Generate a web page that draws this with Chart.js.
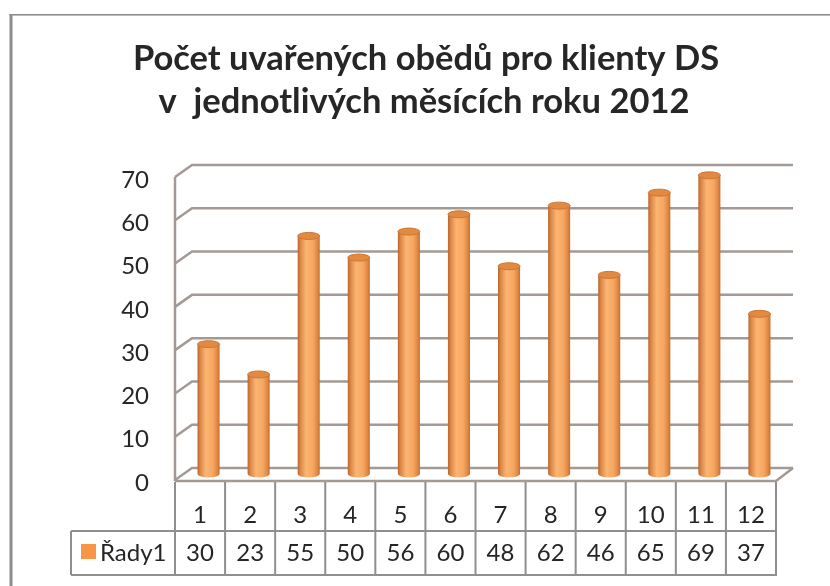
<!DOCTYPE html>
<html>
<head>
<meta charset="utf-8">
<script src="https://cdn.jsdelivr.net/npm/chart.js@4"></script>
<style>
  html, body { margin: 0; padding: 0; background: #ffffff; }
  #c { display: block; }
</style>
</head>
<body>
<canvas id="c" width="830" height="586"></canvas>
<script>
// ---- data ----
const titleLines = ['Počet uvařených obědů pro klienty DS', 'v  jednotlivých měsících roku 2012'];
const categories = ['1', '2', '3', '4', '5', '6', '7', '8', '9', '10', '11', '12'];
const seriesName = 'Řady1';
const values = [30, 23, 55, 50, 56, 60, 48, 62, 46, 65, 69, 37];
const yTicks = [0, 10, 20, 30, 40, 50, 60, 70];

// ---- style ----
const FONT = 'Lato, Carlito, Calibri, sans-serif';
const TEXT = '#262626';
const GRID = '#a39a95';
const TABLE = '#8f8f8f';
const ORANGE = '#f79646';
const DX = 17, DY = 12;          // 3D depth offset (back = front + (DX,-DY))
const BAR_FRAC = 0.44;

function barGradient(ctx, x, w) {
  const g = ctx.createLinearGradient(x - w / 2, 0, x + w / 2, 0);
  g.addColorStop(0, '#b9642c');
  g.addColorStop(0.12, '#dc8645');
  g.addColorStop(0.38, '#fbb573');
  g.addColorStop(0.7, '#f6a761');
  g.addColorStop(0.9, '#df8642');
  g.addColorStop(1, '#c46c30');
  return g;
}

const framePlugin = {
  id: 'frame',
  beforeDraw(chart) {
    const ctx = chart.ctx;
    ctx.save();
    ctx.fillStyle = '#ffffff';
    ctx.fillRect(0, 0, chart.width, chart.height);
    ctx.fillStyle = '#8d8d8d';
    ctx.fillRect(9.5, 14, 3, chart.height - 14);
    ctx.fillRect(9.5, 14, chart.width - 9.5, 1.6);
    // title
    ctx.fillStyle = TEXT;
    ctx.font = 'bold 34.5px ' + FONT;
    ctx.textAlign = 'center';
    ctx.textBaseline = 'alphabetic';
    ctx.fillText(titleLines[0], 426, 70);
    ctx.fillText(titleLines[1], 424, 113);
    ctx.restore();
  }
};

const wallsPlugin = {
  id: 'walls',
  beforeDatasetsDraw(chart) {
    const ctx = chart.ctx;
    const a = chart.chartArea;
    const ys = chart.scales.y;
    const hx = DX / 2, hy = DY / 2;
    ctx.save();
    ctx.strokeStyle = GRID;
    ctx.lineWidth = 2.5;
    ctx.lineCap = 'butt';
    yTicks.forEach(v => {
      const ym = ys.getPixelForValue(v);
      ctx.beginPath();
      ctx.moveTo(a.left - hx, ym + hy);
      ctx.lineTo(a.left + hx, ym - hy);
      ctx.lineTo(a.right + hx, ym - hy);
      ctx.stroke();
    });
    const yTop = ys.getPixelForValue(yTicks[yTicks.length - 1]);
    const y0 = ys.getPixelForValue(0);
    ctx.beginPath();
    ctx.moveTo(a.left - hx, yTop + hy);
    ctx.lineTo(a.left - hx, y0 + hy + 1);
    ctx.stroke();
    ctx.beginPath();
    ctx.moveTo(a.left - hx, y0 + hy + 1);
    ctx.lineTo(a.right - hx, y0 + hy + 1);
    ctx.lineTo(a.right + hx, y0 - hy);
    ctx.stroke();
    ctx.restore();
  },
  afterDatasetsDraw(chart) {
    const ctx = chart.ctx;
    const meta = chart.getDatasetMeta(0);
    ctx.save();
    meta.data.forEach(bar => {
      const w = bar.width, x = bar.x;
      const rx = w / 2, ry = 3.5;
      ctx.fillStyle = barGradient(ctx, x, w);
      ctx.beginPath();
      ctx.ellipse(x, bar.base, rx, ry, 0, 0, Math.PI);
      ctx.fill();
      ctx.beginPath();
      ctx.ellipse(x, bar.y, rx, ry, 0, 0, Math.PI * 2);
      ctx.fillStyle = '#e08a42';
      ctx.fill();
      ctx.strokeStyle = '#cf7634';
      ctx.lineWidth = 1;
      ctx.stroke();
    });
    ctx.restore();
  }
};

const tablePlugin = {
  id: 'dataTable',
  afterDraw(chart) {
    const ctx = chart.ctx;
    const a = chart.chartArea;
    const xs = chart.scales.x;
    const ys = chart.scales.y;
    const hx = DX / 2;
    const colW = (a.right - a.left) / categories.length;
    const top = ys.getPixelForValue(0) + DY / 2 + 1;
    const mid = top + 50;
    const bottom = mid + 44;
    const left = a.left - hx;
    const right = a.right - hx;
    const legendLeft = 71;
    ctx.save();
    ctx.strokeStyle = TABLE;
    ctx.lineWidth = 2;
    ctx.beginPath();
    for (let i = 0; i <= categories.length; i++) {
      const x = left + i * colW;
      ctx.moveTo(x, top + 1);
      ctx.lineTo(x, bottom);
    }
    ctx.moveTo(legendLeft, mid);
    ctx.lineTo(right, mid);
    ctx.moveTo(legendLeft, bottom);
    ctx.lineTo(right + 1, bottom);
    ctx.moveTo(legendLeft, mid);
    ctx.lineTo(legendLeft, bottom);
    ctx.stroke();
    ctx.fillStyle = TEXT;
    ctx.font = '24px ' + FONT;
    ctx.textAlign = 'center';
    ctx.textBaseline = 'alphabetic';
    categories.forEach((c, i) => {
      const cx = xs.getPixelForValue(i) - hx;
      ctx.fillText(c, cx, top + 42);
      ctx.fillText(String(values[i]), cx, mid + 30);
    });
    ctx.textAlign = 'left';
    ctx.fillText(seriesName, 100, mid + 30);
    ctx.fillStyle = ORANGE;
    ctx.fillRect(81, mid + 13, 15, 15);
    ctx.restore();
  }
};

new Chart(document.getElementById('c'), {
  type: 'bar',
  data: {
    labels: categories,
    datasets: [{
      label: seriesName,
      data: values,
      backgroundColor: (c) => {
        const chart = c.chart;
        const a = chart.chartArea;
        if (!a || c.type !== 'data') return ORANGE;
        const w = (a.right - a.left) / categories.length * BAR_FRAC;
        const x = chart.scales.x.getPixelForValue(c.dataIndex);
        return barGradient(chart.ctx, x, w);
      },
      borderWidth: 0,
      barPercentage: BAR_FRAC,
      categoryPercentage: 1.0
    }]
  },
  options: {
    responsive: false,
    animation: false,
    devicePixelRatio: 1,
    layout: { padding: { left: 0, top: 171, right: 45.5, bottom: 112 } },
    plugins: {
      legend: { display: false },
      title: { display: false },
      tooltip: { enabled: false }
    },
    scales: {
      x: { display: false, offset: true },
      y: {
        min: 0, max: 70,
        afterFit: (s) => { s.width = 183.5; },
        afterBuildTicks: (s) => { s.ticks = yTicks.map(v => ({ value: v })); },
        grid: { display: false, drawTicks: false },
        border: { display: false },
        ticks: {
          padding: 34.5,
          labelOffset: 9,
          color: TEXT,
          font: { family: FONT, size: 24 }
        }
      }
    }
  },
  plugins: [framePlugin, wallsPlugin, tablePlugin]
});
</script>
</body>
</html>
